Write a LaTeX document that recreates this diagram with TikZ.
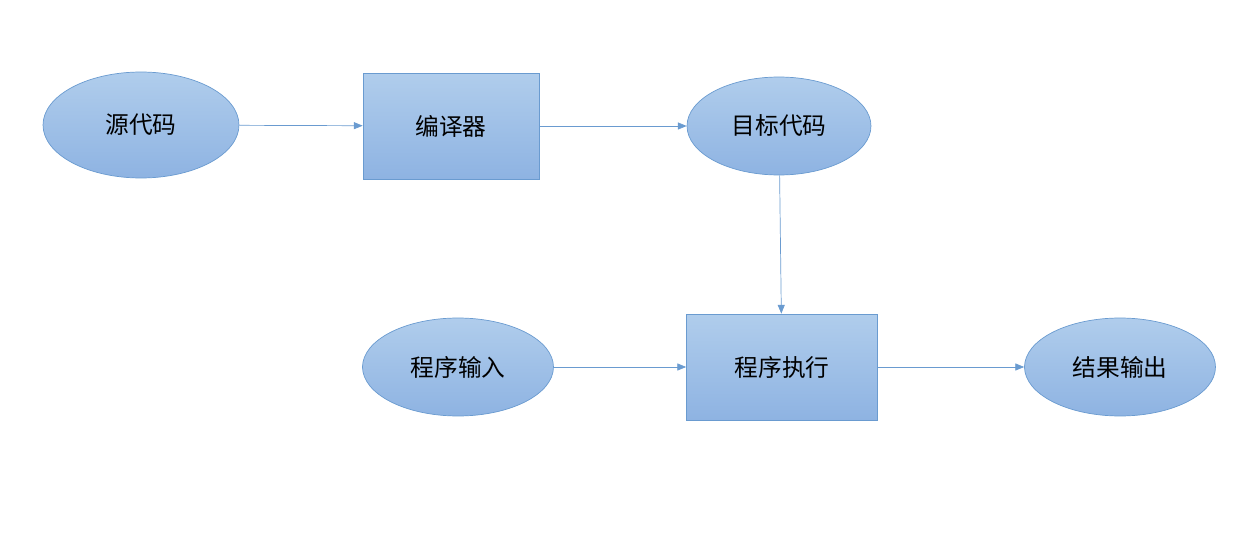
\documentclass[tikz,border=0pt]{standalone}
\usepackage{fontspec}
\newfontfamily\cjk{Noto Sans CJK SC}
\usetikzlibrary{shapes.geometric,arrows.meta}
\definecolor{topblue}{HTML}{B0CDEC}
\definecolor{botblue}{HTML}{8EB3E2}
\definecolor{edgeblue}{HTML}{6A9BD0}
\tikzset{
  blob/.style={ellipse,draw=edgeblue,top color=topblue,bottom color=botblue,inner sep=0pt,font=\cjk\fontsize{13.5}{16}\selectfont},
  boxy/.style={rectangle,draw=edgeblue,top color=topblue,bottom color=botblue,inner sep=0pt,font=\cjk\fontsize{13.5}{16}\selectfont},
  link/.style={draw=edgeblue,-{Triangle[length=5pt,width=4pt]}}
}
\begin{document}
\begin{tikzpicture}[x=0.02cm,y=-0.02cm]
   \useasboundingbox (0,0) rectangle (1258,541);
   \node[blob,minimum width=3.92cm,minimum height=2.12cm] (src) at (141,125) {源代码};
   \node[boxy,minimum width=3.52cm,minimum height=2.12cm] (comp) at (451,126) {编译器};
   \node[blob,minimum width=3.68cm,minimum height=1.96cm] (obj) at (779,126) {目标代码};
   \node[blob,minimum width=3.82cm,minimum height=1.96cm] (inp) at (458,367) {程序输入};
   \node[boxy,minimum width=3.82cm,minimum height=2.12cm] (run) at (782,367) {程序执行};
   \node[blob,minimum width=3.82cm,minimum height=1.96cm] (out) at (1120,367) {结果输出};
   \draw[link] (src) -- (comp);
   \draw[link] (comp) -- (obj);
   \draw[link] (obj) -- (run);
   \draw[link] (inp) -- (run);
   \draw[link] (run) -- (out);
\end{tikzpicture}
\end{document}
